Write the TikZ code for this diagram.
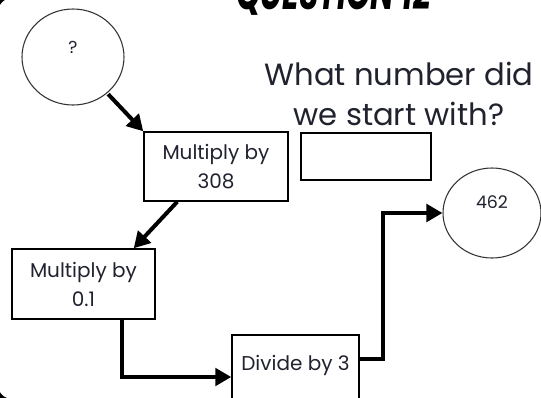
\documentclass[tikz,border=0pt]{standalone}
\usepackage{fontspec}
\setmainfont{Poppins}
\usetikzlibrary{arrows.meta}
\usetikzlibrary{shapes.geometric}
\usetikzlibrary{calc}
\definecolor{inkblue}{HTML}{20222E}
\tikzset{
  opbox/.style={draw, line width=1.1pt, inner sep=0pt, align=center, text=inkblue,
    font=\fontsize{15}{21.75}\selectfont},
  numcirc/.style={draw=black!80, line width=0.8pt, ellipse, inner sep=0pt},
  conn/.style={line width=3pt, -{Triangle[length=12pt,width=13pt]}},
}

\begin{document}
\begin{tikzpicture}[x=0.75pt,y=0.75pt,yscale=-1,xscale=1]
\useasboundingbox (0,0) rectangle (541,397);

%Frame
\draw [line width=3pt, rounded corners=12pt] (-4,-4) rectangle (600,401);

%Title
\node [anchor=south, inner sep=0pt] (title) at (333.5,16)
  {\resizebox{146pt}{27pt}{\bfseries\itshape QUESTION 12}};

%Shape: Ellipse
\node [numcirc, minimum width=76.5pt, minimum height=72pt,
  label={[yshift=7.5pt, text=inkblue, font=\fontsize{13}{15}\selectfont]center:?}] (start) at (73,57) {};
%Shape: Ellipse
\node [numcirc, minimum width=73.5pt, minimum height=67.5pt,
  label={[yshift=8pt, text=inkblue, font=\fontsize{13}{15}\selectfont]center:462}] (result) at (492,213) {};

%Boxes
\node [opbox, minimum width=108pt, minimum height=51.75pt] (mulA) at (216,166.5) {Multiply by\\308};
\node [opbox, minimum width=97.5pt, minimum height=35.25pt] (answer) at (366,156.5) {};
\node [opbox, minimum width=107.25pt, minimum height=52.5pt] (mulB) at (83.5,284) {Multiply by\\0.1};
\node [opbox, minimum width=95.25pt, minimum height=63pt] (divide) at (295.5,377) {Divide by 3\\\mbox{}};

%Question
\node [align=center, text=inkblue, font=\fontsize{23}{30}\selectfont] (question) at (399,94)
  {What number did\\we start with?};

%Straight Lines
\draw [conn] ($(start.center)!0.5!(mulA.north west)$) -- (mulA.north west);
\draw [conn] ($(mulA.south west)+(34,0)$) -- ($(mulB.north east)+(-22,0)$);
%Elbow Lines
\draw [conn] ($(mulB.south)+(38.5,0)$) |- (divide.west);
\draw [conn] ($(divide.east)+(0,-18)$) -- ++(23,0) |- (result.west);

\end{tikzpicture}
\end{document}
